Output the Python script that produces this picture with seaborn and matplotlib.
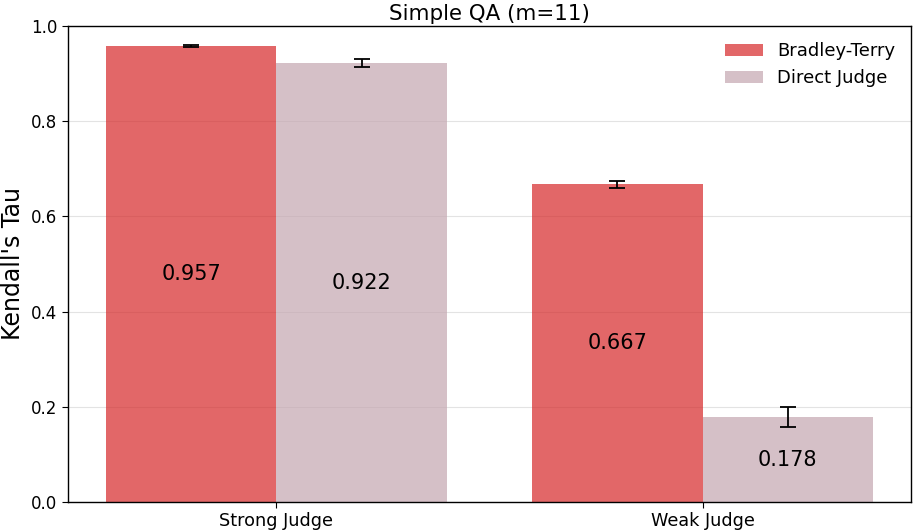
import numpy as np
import pandas as pd
import seaborn as sns
import matplotlib.pyplot as plt

# data
judges = ["Strong Judge", "Weak Judge"]
methods = ["Bradley-Terry", "Direct Judge"]
bt_tau = [0.957, 0.667]
dj_tau = [0.922, 0.178]
bt_err = [0.002, 0.008]
dj_err = [0.008, 0.021]

df = pd.DataFrame({
    "judge": judges * 2,
    "method": [methods[0]] * 2 + [methods[1]] * 2,
    "tau": bt_tau + dj_tau,
    "err": bt_err + dj_err,
})

sns.set_style("white")
plt.rcParams["font.family"] = ["DejaVu Sans"]
plt.rcParams.update({"text.color": "black", "axes.labelcolor": "black",
                     "xtick.color": "black", "ytick.color": "black"})

fig, ax = plt.subplots(figsize=(9.15, 5.3), dpi=100)
palette = {"Bradley-Terry": "#d62728", "Direct Judge": "#c4a6b0"}
sns.barplot(data=df, x="judge", y="tau", hue="method", palette=palette,
            saturation=1, alpha=0.7, width=0.8, linewidth=0,
            errorbar=None, ax=ax, zorder=2)

# error bars + value labels from the drawn bars
for container, m in zip(ax.containers, methods):
    sub = df[df["method"] == m]
    for patch, (_, row) in zip(container.patches, sub.iterrows()):
        cx = patch.get_x() + patch.get_width() / 2
        h = patch.get_height()
        ax.errorbar(cx, h, yerr=row["err"], fmt="none", ecolor="black",
                    elinewidth=1.3, capsize=6, capthick=1.3, zorder=3)
        ax.text(cx, h / 2, f"{h:.3f}", ha="center", va="center",
                fontsize=15, color="black", zorder=4)

ax.set_ylim(0, 1.0)
ax.set_yticks(np.arange(0, 1.01, 0.2))
ax.yaxis.grid(True, color="#dddddd", linewidth=0.8, alpha=0.8, zorder=0)
ax.set_axisbelow(True)
for s in ax.spines.values():
    s.set_color("black")
    s.set_linewidth(1.0)
ax.tick_params(axis="both", length=4, color="black", labelcolor="black")
ax.tick_params(axis="y", left=True, labelsize=12)
ax.tick_params(axis="x", bottom=True, labelsize=12.7)
ax.set_xlabel("")
ax.set_ylabel("Kendall's Tau", fontsize=17, color="black")
ax.set_title("Simple QA (m=11)", fontsize=15.4, pad=4, color="black")
ax.legend(frameon=False, fontsize=13, loc="upper right", handlelength=2.1,
          borderaxespad=0.5, labelcolor="black")

fig.subplots_adjust(left=0.074, right=0.996, bottom=0.053, top=0.951)
fig.savefig("out.png", dpi=100)
